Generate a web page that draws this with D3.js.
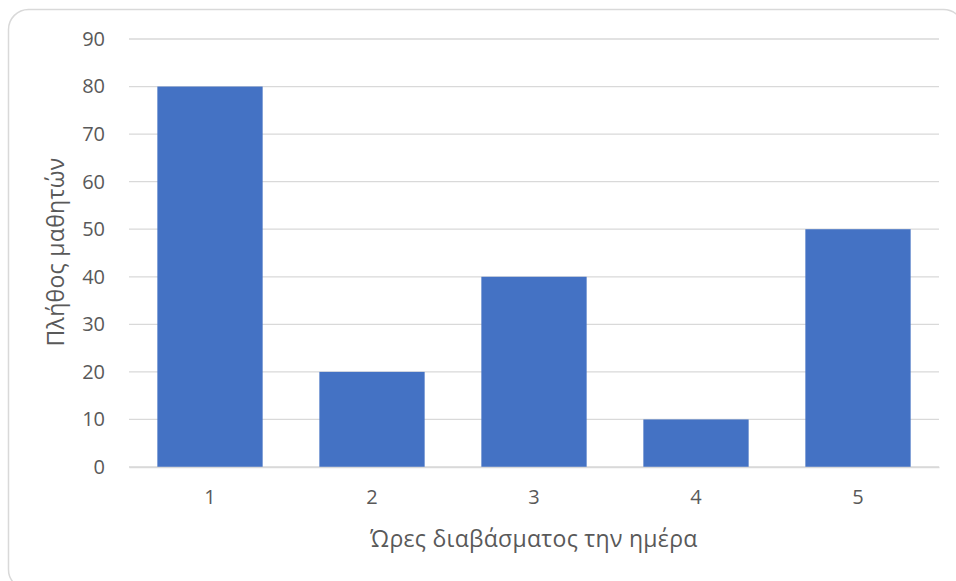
<!DOCTYPE html>
<html><head><meta charset="utf-8">
<script src="https://cdn.jsdelivr.net/npm/d3@7"></script>
<style>body{margin:0;background:#fff}svg{display:block}</style>
</head><body><svg id="c" width="956" height="581"></svg>
<script>
const categories = ["1","2","3","4","5"];
const values = [80,20,40,10,50];
const yTicks = [0,10,20,30,40,50,60,70,80,90];
const xTitle = "Ώρες διαβάσματος την ημέρα";
const yTitle = "Πλήθος μαθητών";

const svg = d3.select("#c");
const font = "'Open Sans', sans-serif";
svg.append("rect").attr("x",8.5).attr("y",9.5).attr("width",955).attr("height",580)
  .attr("rx",20).attr("fill","#fff").attr("stroke","#d9d9d9").attr("stroke-width",1.5);

const L=129, R=939, T=39, B=467;
const x = d3.scaleBand().domain(categories).range([L,R]).paddingInner(0.35).paddingOuter(0.175);
const y = d3.scaleLinear().domain([0,90]).range([B,T]);

const g = svg.append("g");
g.selectAll("line.grid").data(yTicks).join("line")
  .attr("x1",L).attr("x2",R).attr("y1",d=>y(d)).attr("y2",d=>y(d))
  .attr("stroke","#d9d9d9").attr("stroke-width",1.3);

g.selectAll("rect.bar").data(values).join("rect")
  .attr("x",(d,i)=>x(categories[i])).attr("width",x.bandwidth())
  .attr("y",d=>y(d)).attr("height",d=>B-y(d)).attr("fill","#4472c4");

const yAxis = svg.append("g").attr("transform",`translate(${L},0)`)
  .call(d3.axisLeft(y).tickValues(yTicks).tickSize(0).tickPadding(24));
yAxis.select(".domain").remove();
yAxis.selectAll("text").attr("font-family",font).attr("font-size",20).attr("fill","#595959");

const xAxis = svg.append("g").attr("transform",`translate(0,${B})`)
  .call(d3.axisBottom(x).tickSize(0).tickPadding(23));
xAxis.select(".domain").attr("stroke","#d9d9d9").attr("stroke-width",1.3);
xAxis.selectAll("text").attr("font-family",font).attr("font-size",20).attr("fill","#595959");

svg.append("text").attr("x",534).attr("y",547).attr("text-anchor","middle")
  .attr("font-family",font).attr("font-size",23).attr("letter-spacing",0.3).attr("fill","#595959").text(xTitle);
svg.append("text").attr("transform","translate(64,252) rotate(-90)").attr("text-anchor","middle")
  .attr("font-family",font).attr("font-size",23).attr("letter-spacing",0.3).attr("fill","#595959").text(yTitle);
</script></body></html>
